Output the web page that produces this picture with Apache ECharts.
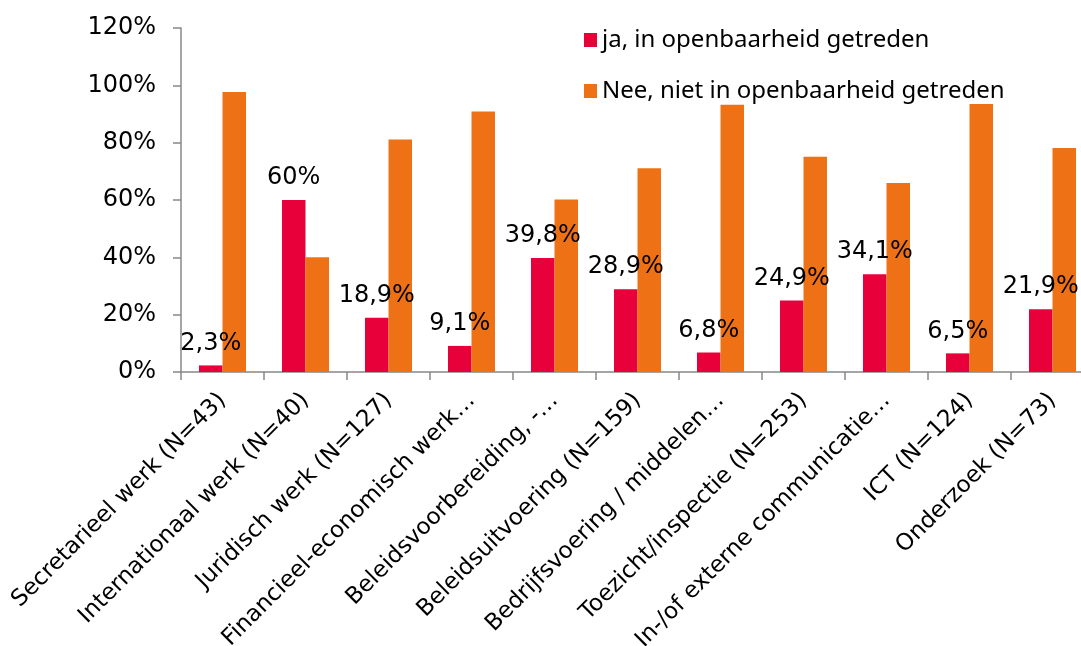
<!DOCTYPE html>
<html>
<head>
<meta charset="utf-8">
<script src="https://cdn.jsdelivr.net/npm/echarts@6/dist/echarts.min.js"></script>
<style>
  html, body { margin: 0; padding: 0; background: #fff; }
  #chart { width: 1081px; height: 646px; }
</style>
</head>
<body>
<div id="chart"></div>
<script>
// categories as shown on the axis (long ones are cut off in the original)
const categories = [
    'Secretarieel werk (N=43)',
    'Internationaal werk (N=40)',
    'Juridisch werk (N=127)',
    'Financieel-economisch werk…',
    'Beleidsvoorbereiding, -…',
    'Beleidsuitvoering (N=159)',
    'Bedrijfsvoering / middelen…',
    'Toezicht/inspectie (N=253)',
    'In-/of externe communicatie…',
    'ICT (N=124)',
    'Onderzoek (N=73)'
];
const seriesNames = ['ja, in openbaarheid getreden', 'Nee, niet in openbaarheid getreden'];
const jaValues = [2.3, 60, 18.9, 9.1, 39.8, 28.9, 6.8, 24.9, 34.1, 6.5, 21.9];
const neeValues = [97.7, 40, 81.1, 90.9, 60.2, 71.1, 93.2, 75.1, 65.9, 93.5, 78.1];
const yTicks = [0, 20, 40, 60, 80, 100, 120];

const FONT = '"DejaVu Sans", sans-serif';
const fmtPct = v => String(v).replace('.', ',') + '%';

let myChart = echarts.init(document.getElementById('chart'));

let option = {
    animation: false,
    legend: {
        orient: 'vertical',
        left: 579,
        top: 23,
        itemWidth: 13,
        itemHeight: 14,
        itemGap: 27,
        icon: 'rect',
        textStyle: { fontFamily: 'Noto Sans', fontSize: 24, color: '#000', padding: [0, 0, 0, 0] },
        data: seriesNames
    },
    grid: {
        left: 181,
        top: 28,
        width: 913,
        height: 344,
        containLabel: false,
        outerBoundsMode: 'none'
    },
    xAxis: {
        type: 'category',
        data: categories,
        axisLine: { lineStyle: { color: '#888', width: 1.5 } },
        axisTick: { show: true, length: 8, lineStyle: { color: '#888', width: 1.5 } },
        axisLabel: {
            interval: 0,
            rotate: 45,
            fontFamily: FONT,
            fontSize: 23,
            color: '#000',
            margin: 25
        }
    },
    yAxis: {
        type: 'value',
        min: yTicks[0],
        max: yTicks[yTicks.length - 1],
        interval: 20,
        splitLine: { show: false },
        axisLine: { show: true, lineStyle: { color: '#888', width: 1.5 } },
        axisTick: { show: true, length: 8, lineStyle: { color: '#888', width: 1.5 } },
        axisLabel: {
            fontFamily: FONT,
            fontSize: 24,
            color: '#000',
            margin: 25,
            formatter: v => v + '%'
        }
    },
    series: [
        {
            name: seriesNames[0],
            type: 'bar',
            data: jaValues,
            barWidth: 23.5,
            barGap: '0%',
            itemStyle: { color: '#E8003A' },
            label: {
                show: true,
                position: 'top',
                distance: 10,
                fontFamily: FONT,
                fontSize: 24,
                color: '#000',
                formatter: p => fmtPct(p.value)
            }
        },
        {
            name: seriesNames[1],
            type: 'bar',
            data: neeValues,
            barWidth: 23.5,
            barGap: '0%',
            itemStyle: { color: '#EE7215' }
        }
    ]
};

myChart.setOption(option);
</script>
</body>
</html>
